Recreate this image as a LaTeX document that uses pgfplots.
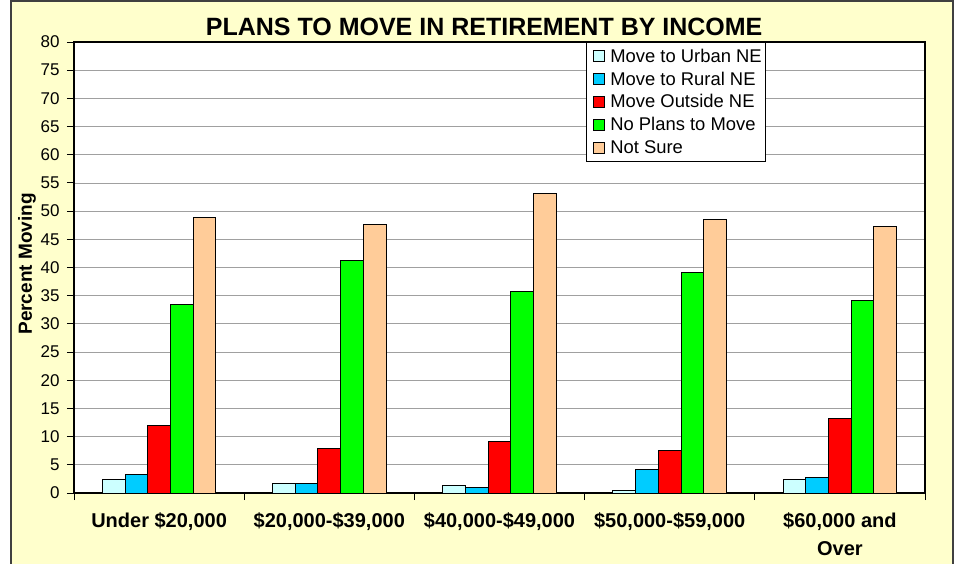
\documentclass[border=0pt]{standalone}
\usepackage{fontspec}
\setmainfont{Liberation Sans}
\usepackage{pgfplots}
\pgfplotsset{compat=1.18}
\definecolor{bgyellow}{HTML}{FFFFCC}
\definecolor{urban}{HTML}{CCFFFF}
\definecolor{rural}{HTML}{00CCFF}
\definecolor{outside}{HTML}{FF0000}
\definecolor{noplan}{HTML}{00FF00}
\definecolor{notsure}{HTML}{FFCC99}
\definecolor{gridgray}{HTML}{A0A0A0}
\begin{document}
\begin{tikzpicture}[x=1pt,y=1pt]
\clip (0,0) rectangle (957,563);
\fill[white] (0,0) rectangle (957,563);
\filldraw[fill=bgyellow, draw=black!75, line width=1.2pt] (11,-10) rectangle (953,562);
\begin{axis}[
  at={(74pt,70pt)}, anchor=south west,
  scale only axis, width=851pt, height=451pt,
  axis background/.style={fill=white},
  xmin=-0.5, xmax=4.5, ymin=0, ymax=80,
  ytick={0,5,...,80},
  ymajorgrids, grid style={gridgray, line width=0.8pt},
  xtick={-0.5,0.5,...,4.5}, xticklabels={},
  extra x ticks={0,1,2,3,4},
  extra x tick labels={{Under \$20,000},{\$20,000-\$39,000},{\$40,000-\$49,000},{\$50,000-\$59,000},{\$60,000 and\\Over}},
  extra x tick style={major tick length=0pt, grid=none,
     xticklabel style={font=\bfseries\fontsize{20}{28}\selectfont, align=center, anchor=north, yshift=-16pt}},
  tick pos=left,
  tick align=outside, major tick length=7pt,
  tick style={black, line width=1pt},
  axis line style={black, line width=1.3pt},
  yticklabel style={font=\fontsize{17}{17}\selectfont, xshift=-4pt},
  /pgf/number format/assume math mode=true,
  title={PLANS TO MOVE IN RETIREMENT BY INCOME},
  title style={font=\bfseries\fontsize{25}{25}\selectfont, at={(axis description cs:0.482,1)}, anchor=south, yshift=-3pt},
  ylabel={Percent Moving},
  ylabel style={font=\bfseries\fontsize{19}{19}\selectfont, at={(axis description cs:-0.0552,0.508)}, anchor=center},
  legend style={at={(0.6016,1)}, anchor=north west, draw=black, fill=white, line width=0.8pt,
     font=\fontsize{18.4}{20}\selectfont, row sep=4pt, inner xsep=2pt, inner ysep=4.5pt, cells={anchor=west}},
  legend image code/.code={\path (0pt,0pt) (19pt,0pt); \draw[#1, draw=black, line width=0.8pt] (5pt,-5.5pt) rectangle (16pt,5.5pt);},
]
\addplot[ybar, bar width=0.1334, bar shift=-0.2668, fill=urban, draw=black, line width=1pt]
  coordinates {(0,2.4) (1,1.6) (2,1.35) (3,0.5) (4,2.4)};
\addplot[ybar, bar width=0.1334, bar shift=-0.1334, fill=rural, draw=black, line width=1pt]
  coordinates {(0,3.2) (1,1.6) (2,0.9) (3,4.25) (4,2.8)};
\addplot[ybar, bar width=0.1334, bar shift=0, fill=outside, draw=black, line width=1pt]
  coordinates {(0,11.9) (1,7.95) (2,9.05) (3,7.5) (4,13.2)};
\addplot[ybar, bar width=0.1334, bar shift=0.1334, fill=noplan, draw=black, line width=1pt]
  coordinates {(0,33.45) (1,41.3) (2,35.8) (3,39.2) (4,34.2)};
\addplot[ybar, bar width=0.1334, bar shift=0.2668, fill=notsure, draw=black, line width=1pt]
  coordinates {(0,48.9) (1,47.6) (2,53.1) (3,48.6) (4,47.35)};
\legend{Move to Urban NE, Move to Rural NE, Move Outside NE, No Plans to Move, Not Sure}
\end{axis}
\end{tikzpicture}
\end{document}
